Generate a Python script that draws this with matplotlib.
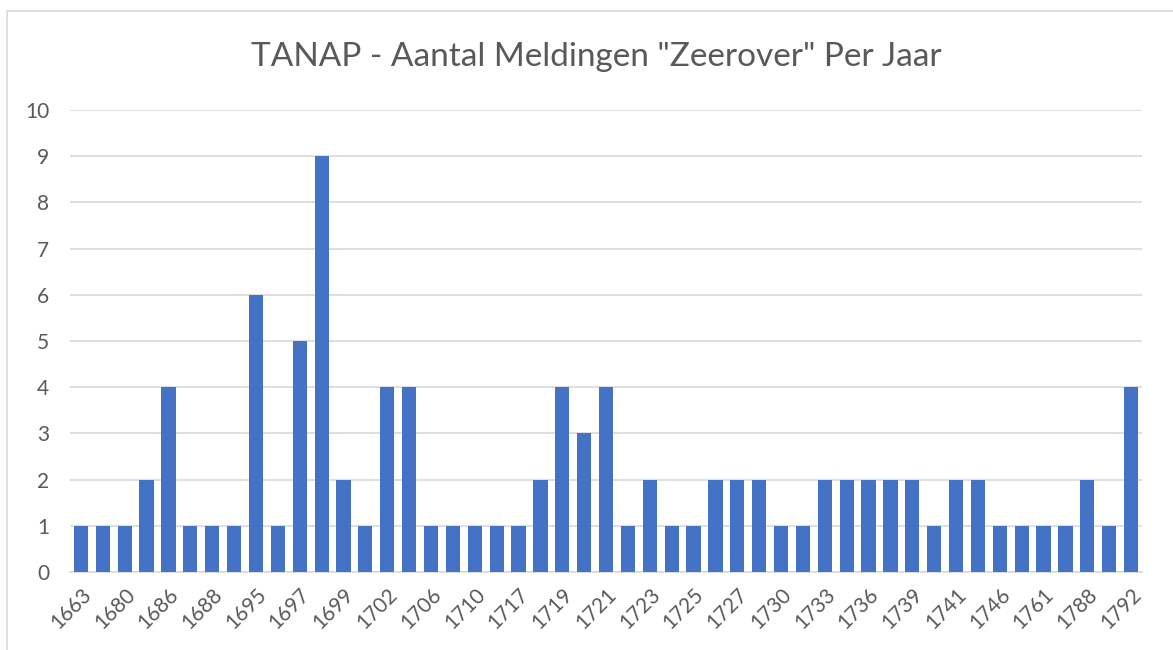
import matplotlib
matplotlib.use("Agg")
import matplotlib.pyplot as plt
from matplotlib.patches import Rectangle

# --- Data ---
years = [1663, 1679, 1680, 1685, 1686, 1687, 1688, 1694, 1695, 1696,
         1697, 1698, 1699, 1701, 1702, 1705, 1706, 1709, 1710, 1716,
         1717, 1718, 1719, 1720, 1721, 1722, 1723, 1724, 1725, 1726,
         1727, 1729, 1730, 1732, 1733, 1735, 1736, 1738, 1739, 1740,
         1741, 1745, 1746, 1760, 1761, 1787, 1788, 1791, 1792]
counts = [1, 1, 1, 2, 4, 1, 1, 1, 6, 1,
          5, 9, 2, 1, 4, 4, 1, 1, 1, 1,
          1, 2, 4, 3, 4, 1, 2, 1, 1, 2,
          2, 2, 1, 1, 2, 2, 2, 2, 2, 1,
          2, 2, 1, 1, 1, 1, 2, 1, 4]
title = 'TANAP - Aantal Meldingen "Zeerover" Per Jaar'

plt.rcParams['font.family'] = ['Lato', 'DejaVu Sans']

fig = plt.figure(figsize=(11.73, 6.5), dpi=100)
ax = fig.add_axes([0.0597, 0.12, 0.9139, 0.7108])

# chart border (cut off on right/bottom like the screenshot)
fig.patches.append(Rectangle((7 / 1173, -0.1), 1.2, 1 - 11 / 650 + 0.1,
                             transform=fig.transFigure, fill=False,
                             edgecolor='#D9D9D9', linewidth=1.2))

x = list(range(len(years)))
ax.bar(x, counts, width=0.65, color='#4472C4', zorder=3)

ax.set_ylim(0, 10)
ax.set_yticks(range(0, 11))
ax.set_xlim(-0.5, len(years) - 0.5)
ax.set_xticks(x[::2])
ax.set_xticklabels([str(y) for y in years[::2]], rotation=45,
                   ha='right', rotation_mode='anchor')
ax.tick_params(axis='both', length=0, labelcolor='#595959')
ax.tick_params(axis='y', pad=15, labelsize=15)
ax.tick_params(axis='x', pad=9, labelsize=15)

ax.grid(axis='y', color='#D9D9D9', linewidth=1.2, zorder=0)
for s in ['top', 'right', 'left']:
    ax.spines[s].set_visible(False)
ax.spines['bottom'].set_color('#D9D9D9')
ax.spines['bottom'].set_linewidth(1.2)

fig.text(0.508, 0.913, title, ha='center', va='center',
         fontsize=24, color='#595959')

fig.savefig('out.png', dpi=100)
